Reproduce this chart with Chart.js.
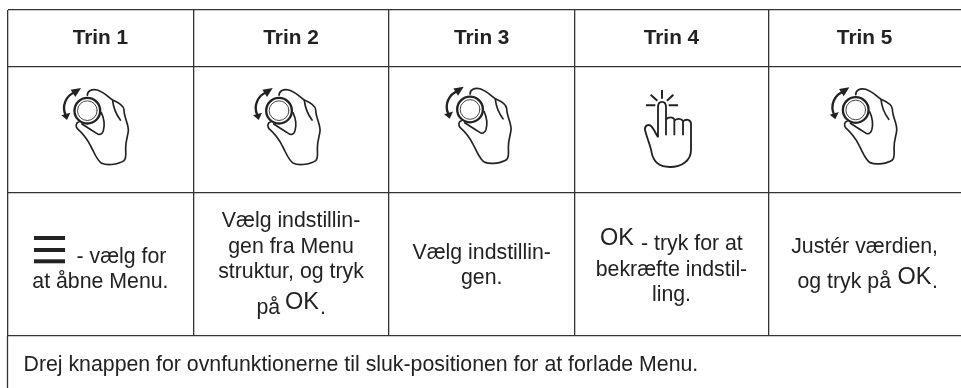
<!DOCTYPE html>
<html><head><meta charset="utf-8">
<style>html,body{margin:0;padding:0;background:#fff}canvas{display:block;filter:blur(.3px)}</style>
<script src="https://cdn.jsdelivr.net/npm/chart.js@4"></script>
</head><body><canvas id="c" width="961" height="388"></canvas>
<script>
// table content
const stepLabels = ["Trin 1","Trin 2","Trin 3","Trin 4","Trin 5"];
const stepGestures = ["rotate","rotate","rotate","press","rotate"];
const instruction1 = ["- vælg for","at åbne Menu."];
const instruction2 = ["Vælg indstillin-","gen fra Menu","struktur, og tryk","på","OK","."];
const instruction3 = ["Vælg indstillin-","gen."];
const instruction4 = ["OK","- tryk for at","bekræfte indstil-","ling."];
const instruction5 = ["Justér værdien,","og tryk på","OK","."];
const footerNote = "Drej knappen for ovnfunktionerne til sluk-positionen for at forlade Menu.";

// layout of the table (pixels of the 961x388 page)
const colEdges = [7.5,193.3,388.7,574.7,768.2];
const rowEdges = [10,66.5,193,336];
const iconShiftX = [0,191.7,382.7,0,768.4];
const iconShiftY = [0,0,-1.2,0,-0.7];
const FONT = '"Liberation Sans", Arial, sans-serif';
const INK = '#222';

const HAND = new Path2D("M262 286 C262 272 275 266 292 270 C312 276 325 292 338 300 C352 306 372 316 372 330 C372 352 386 372 385 392 C384 408 377 420 377 445 C377 462 380 474 372 482 C358 492 325 498 305 490 C290 480 285 462 272 438 C262 418 250 402 232 386 C226 378 228 368 236 366");
const HAND2 = new Path2D("M338 302 C340 322 350 345 361 360 M304 338 C314 360 314 378 310 392 C306 404 298 406 290 400 C274 390 258 380 246 372");
const ARC = new Path2D("M226 276 C198 286 184 318 197 346");
const ARROW1 = new Path2D("M243 264 L212 269 L226 291 Z");
const ARROW2 = new Path2D("M184 346 L211 338 L201 360 Z");
const PRESS = new Path2D("M366 120 L366 146 M332 134 L352 152 M400 134 L381 152 M318 166 L346 166 M386 166 L414 166");
const PRESS2 = new Path2D("M354 262 L354 172 C354 150 378 150 378 172 L378 256 M378 208 C386 200 398 200 403 208 L403 256 M403 212 C411 205 424 205 429 213 L429 256 M429 214 C437 206 452 208 453 220 L453 300 C453 332 425 351 390 351 C358 351 340 335 335 308 C332 288 322 268 315 240 C313 226 326 220 335 230 C343 240 348 252 354 262");

function rotateIcon(ctx, dx, dy){
  ctx.save(); ctx.translate(dx,dy); ctx.scale(1/3,1/3);
  ctx.strokeStyle=INK; ctx.fillStyle=INK; ctx.lineCap='round'; ctx.lineJoin='round';
  ctx.lineWidth=5; ctx.stroke(HAND); ctx.stroke(HAND2);
  ctx.lineWidth=7; ctx.stroke(ARC);
  ctx.fill(ARROW1); ctx.fill(ARROW2);
  ctx.beginPath(); ctx.arc(262,332,38.5,0,Math.PI*2); ctx.lineWidth=7; ctx.stroke();
  ctx.beginPath(); ctx.arc(262,332,29.5,0,Math.PI*2); ctx.lineWidth=2.5; ctx.stroke();
  ctx.restore();
}
function pressIcon(ctx){
  ctx.save(); ctx.translate(540,50); ctx.scale(1/3,1/3);
  ctx.strokeStyle=INK; ctx.lineCap='butt'; ctx.lineJoin='round';
  ctx.lineWidth=6; ctx.stroke(PRESS);
  ctx.lineWidth=5.5; ctx.stroke(PRESS2);
  ctx.restore();
}
function put(ctx,s,x,y,px,weight,align){
  ctx.font=(weight||'normal')+' '+px+'px '+FONT;
  ctx.textAlign=align||'center'; ctx.textBaseline='alphabetic';
  ctx.fillStyle=INK; ctx.fillText(s,x,y);
}
const tablePlugin = {
  id:'tableContent',
  afterDraw(chart){
    const ctx=chart.ctx, x=chart.scales.x, y=chart.scales.y;
    const cx=i=>(x.getPixelForValue(colEdges[i])+(i<4?x.getPixelForValue(colEdges[i+1]):961))/2;
    ctx.save();
    // left border continues through the footer row
    ctx.strokeStyle='#333'; ctx.lineWidth=1.3;
    ctx.beginPath(); ctx.moveTo(x.getPixelForValue(colEdges[0]),y.getPixelForValue(rowEdges[3])); ctx.lineTo(x.getPixelForValue(colEdges[0]),388); ctx.stroke();
    stepLabels.forEach((s,i)=>put(ctx,s,cx(i),44,20.8,'bold'));
    stepGestures.forEach((g,i)=>{ if(g==='rotate') rotateIcon(ctx,iconShiftX[i],iconShiftY[i]); else pressIcon(ctx); });
    const B=21.3,O=23.5;
    // column 1
    ctx.fillStyle=INK;
    [236,248,259.3].forEach(t=>ctx.fillRect(34,t,31,4));
    put(ctx,instruction1[0],76.5,263,B,'normal','left');
    put(ctx,instruction1[1],cx(0),288,B);
    // column 2
    put(ctx,instruction2[0],cx(1),227,B);
    put(ctx,instruction2[1],cx(1),253,B);
    put(ctx,instruction2[2],cx(1),278,B);
    put(ctx,instruction2[3],256.5,314,B,'normal','left');
    put(ctx,instruction2[4],285,309,O,'normal','left');
    put(ctx,instruction2[5],320,314,B,'normal','left');
    // column 3
    put(ctx,instruction3[0],cx(2),259,B);
    put(ctx,instruction3[1],cx(2),284,B);
    // column 4
    put(ctx,instruction4[0],600,245,O,'normal','left');
    put(ctx,instruction4[1],641,250,B,'normal','left');
    put(ctx,instruction4[2],cx(3),276,B);
    put(ctx,instruction4[3],cx(3),301,B);
    // column 5
    put(ctx,instruction5[0],cx(4),253,B);
    put(ctx,instruction5[1],797.5,288,B,'normal','left');
    put(ctx,instruction5[2],897.5,284,O,'normal','left');
    put(ctx,instruction5[3],932,288,B,'normal','left');
    // footer
    put(ctx,footerNote,23.5,371,21.3,'normal','left');
    ctx.restore();
  }
};
new Chart(document.getElementById('c'),{
  type:'scatter',
  data:{datasets:[{data:[],pointRadius:0}]},
  options:{
    responsive:false, animation:false, events:[],
    layout:{padding:{left:7.5,top:10,right:0,bottom:52}},
    plugins:{legend:{display:false},title:{display:false},tooltip:{enabled:false}},
    scales:{
      x:{type:'linear',min:7.5,max:961,
        afterBuildTicks:s=>{s.ticks=colEdges.map(v=>({value:v}));},
        ticks:{display:false},border:{display:false},
        grid:{color:'#333',lineWidth:1.3,drawTicks:false}},
      y:{type:'linear',min:10,max:336,reverse:true,
        afterBuildTicks:s=>{s.ticks=rowEdges.map(v=>({value:v}));},
        ticks:{display:false},border:{display:false},
        grid:{color:'#333',lineWidth:1.3,drawTicks:false}}
    }
  },
  plugins:[tablePlugin]
});
</script></body></html>
